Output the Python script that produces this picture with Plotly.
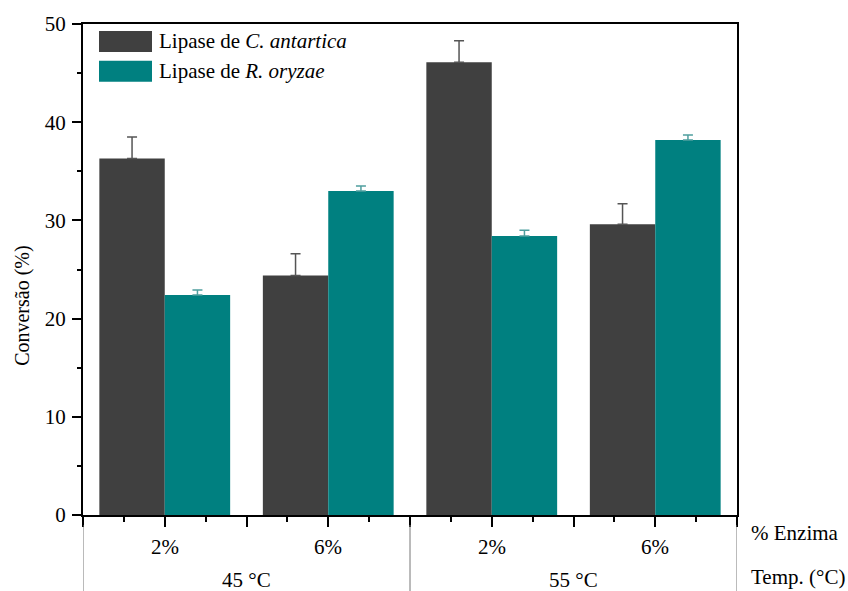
import plotly.graph_objects as go

# Conversion (%) per enzyme loading and temperature
temps = ["45 °C", "45 °C", "55 °C", "55 °C"]
enzyme_pct = ["2%", "6%", "2%", "6%"]
c_antartica = [36.3, 24.4, 46.1, 29.6]
c_antartica_err = [2.2, 2.2, 2.2, 2.1]
r_oryzae = [22.4, 33.0, 28.4, 38.2]
r_oryzae_err = [0.5, 0.5, 0.6, 0.5]
y_ticks = [0, 10, 20, 30, 40, 50]

DARK = "#404040"
TEAL = "#008080"
FONT = "Liberation Serif"
FS = 21

xpos = list(range(len(enzyme_pct)))

fig = go.Figure()
fig.add_trace(go.Bar(
    x=xpos, y=c_antartica, name="Lipase de C. antartica",
    marker=dict(color=DARK, line=dict(width=0)),
    error_y=dict(type="data", symmetric=False, array=c_antartica_err,
                 arrayminus=[0] * 4, color="#555555", thickness=1.5, width=5),
))
fig.add_trace(go.Bar(
    x=xpos, y=r_oryzae, name="Lipase de R. oryzae",
    marker=dict(color=TEAL, line=dict(width=0)),
    error_y=dict(type="data", symmetric=False, array=r_oryzae_err,
                 arrayminus=[0] * 4, color="#4f9f9f", thickness=1.5, width=5),
))

major_x = [i * 0.5 - 0.5 for i in range(9)]
minor_x = [i * 0.5 - 0.25 for i in range(8)]

fig.update_layout(
    width=848, height=591,
    margin=dict(l=83, r=111, t=22, b=76),
    paper_bgcolor="white", plot_bgcolor="white",
    barmode="group", bargap=0.2, bargroupgap=0,
    showlegend=False,
    font=dict(family=FONT, size=FS, color="black"),
    xaxis=dict(
        range=[-0.5, 3.5], tickmode="array", tickvals=major_x,
        ticktext=[""] * len(major_x), ticks="outside", ticklen=10,
        tickwidth=1.5, tickcolor="black",
        minor=dict(tickmode="array", tickvals=minor_x, ticks="outside",
                   ticklen=5, tickwidth=1.5, tickcolor="black"),
        showline=True, linecolor="black", linewidth=2, mirror=True,
        showgrid=False, zeroline=False,
    ),
    yaxis=dict(
        range=[0, 50], tickmode="array", tickvals=y_ticks,
        ticks="outside", ticklen=9, tickwidth=1.5, tickcolor="black",
        ticklabelstandoff=2,
        minor=dict(tickmode="array", tickvals=[5, 15, 25, 35, 45],
                   ticks="outside", ticklen=4, tickwidth=1.5, tickcolor="black"),
        showline=True, linecolor="black", linewidth=2, mirror=True,
        showgrid=False, zeroline=False,
        tickfont=dict(family=FONT, size=FS),
    ),
)

plot_h = 591 - 22 - 76
plot_w = 848 - 83 - 111

annotations = []
# Y-axis title
annotations.append(dict(x=(23 - 83) / plot_w, y=1 - (305 - 22) / plot_h,
                        xref="paper", yref="paper", text="Conversão (%)",
                        textangle=-90, showarrow=False, xanchor="center",
                        yanchor="middle", font=dict(family=FONT, size=20)))
# Category labels below the axis
for x, lab in zip(xpos, enzyme_pct):
    annotations.append(dict(x=x, y=0, xref="x", yref="paper", text=lab,
                            showarrow=False, yanchor="middle", yshift=-32,
                            font=dict(family=FONT, size=FS)))
for x, lab in [(0.5, temps[0]), (2.5, temps[2])]:
    annotations.append(dict(x=x, y=0, xref="x", yref="paper", text=lab,
                            showarrow=False, yanchor="middle", yshift=-65,
                            font=dict(family=FONT, size=FS)))
annotations.append(dict(x=1, y=0, xref="paper", yref="paper", text="% Enzima",
                        showarrow=False, xanchor="left", yanchor="middle",
                        xshift=12, yshift=-18, font=dict(family=FONT, size=FS)))
annotations.append(dict(x=1, y=0, xref="paper", yref="paper", text="Temp. (°C)",
                        showarrow=False, xanchor="left", yanchor="middle",
                        xshift=12, yshift=-62, font=dict(family=FONT, size=FS)))

# Legend drawn inside the plot
legend_items = [("Lipase de <i>C. antartica</i>", DARK, 29, 50),
                ("Lipase de <i>R. oryzae</i>", TEAL, 59, 80)]
shapes = []
for text, color, top, bottom in legend_items:
    y0 = 1 - (bottom - 22) / plot_h
    y1 = 1 - (top - 22) / plot_h
    shapes.append(dict(type="rect", xref="paper", yref="paper",
                       x0=(99 - 83) / plot_w, x1=(152 - 83) / plot_w,
                       y0=y0, y1=y1, fillcolor=color, line=dict(width=0)))
    annotations.append(dict(x=(157 - 83) / plot_w, y=(y0 + y1) / 2,
                            xref="paper", yref="paper", text=text,
                            showarrow=False, xanchor="left", yanchor="middle",
                            font=dict(family=FONT, size=FS)))

# Group dividers under the axis
for xd in [-0.5, 1.5, 3.5]:
    shapes.append(dict(type="line", xref="x", yref="paper", x0=xd, x1=xd,
                       y0=-10 / plot_h, y1=-80 / plot_h,
                       line=dict(color="#777777", width=1)))

fig.update_layout(annotations=annotations, shapes=shapes)

fig.write_html("out.html")
